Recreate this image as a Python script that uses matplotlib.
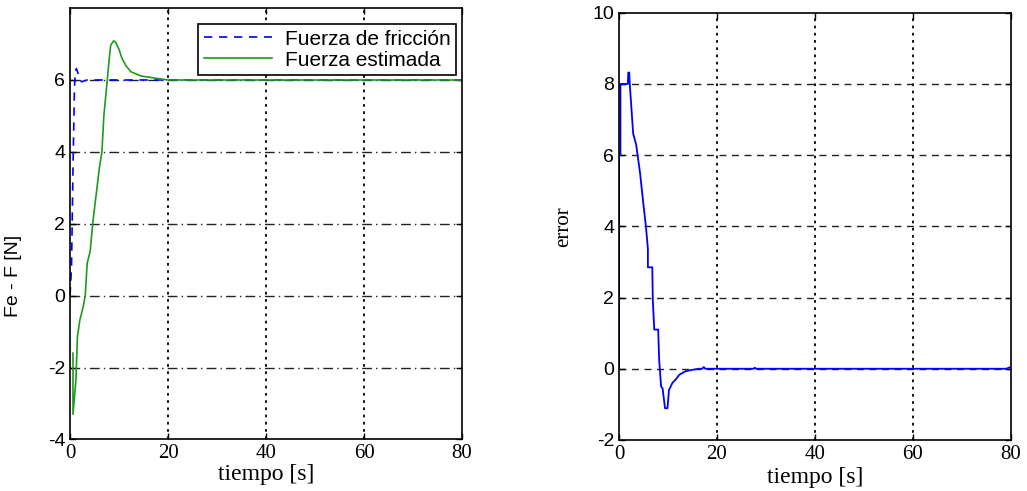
import matplotlib
matplotlib.use("Agg")
import matplotlib.pyplot as plt

plt.rcParams["axes.unicode_minus"] = False

# left panel: friction force vs estimated force
t_fric = [0, 0.3, 0.6, 0.9, 1.1, 1.3, 1.6, 2.0, 2.4, 2.8, 3.5, 80]
fric = [0, 0.8, 3.5, 5.8, 6.25, 6.32, 6.2, 6.0, 5.95, 5.97, 6.0, 6.0]

t_est = [0.6, 0.6, 1.2, 1.5, 2.0, 2.7, 3.1, 3.5, 4.1, 4.7, 5.5, 6.0, 6.5, 6.9,
         7.6, 8.0, 8.3, 8.9, 9.3, 10.0, 10.6, 11.4, 12.4, 14.5, 18, 20, 80]
est = [-1.6, -3.3, -2.35, -1.15, -0.68, -0.3, 0.0, 0.9, 1.23, 2.1, 3.0, 3.57, 4.0, 5.0,
       6.0, 6.6, 6.97, 7.09, 7.05, 6.85, 6.6, 6.4, 6.23, 6.11, 6.04, 6.0, 6.0]

# right panel: error
t_err = [0, 0, 0.3, 0.3, 1.8, 1.9, 2.1, 2.2, 2.6, 2.9, 3.5, 3.8, 4.3, 5.0, 5.5,
         5.9, 5.9, 6.8, 6.9, 7.2, 8.0, 8.2, 8.6, 8.9, 9.4, 9.9, 10.2, 10.9, 11.6,
         12.3, 13.6, 15.0, 16.3, 17.0, 17.3, 17.6, 27.5, 27.7, 28.0, 79.0, 80.0]
err = [0.0, 6.0, 6.0, 8.0, 8.0, 8.32, 8.32, 8.0, 7.2, 6.6, 6.3, 6.0, 5.5, 4.6, 4.0,
       3.37, 2.85, 2.85, 1.95, 1.1, 1.1, 0.25, -0.5, -0.55, -1.11, -1.11, -0.6, -0.4, -0.3,
       -0.17, -0.07, -0.03, 0.0, 0.0, 0.05, 0.0, 0.0, 0.03, 0.0, 0.0, 0.05]

xticks = [0, 20, 40, 60, 80]
yticks_left = [-4, -2, 0, 2, 4, 6]
yticks_right = [-2, 0, 2, 4, 6, 8, 10]

SERIF = "Liberation Serif"
SANS = "Liberation Sans"

fig = plt.figure(figsize=(10.27, 4.91), dpi=100)
ax1 = fig.add_axes([0.0682, 0.105, 0.3817, 0.8785])
ax2 = fig.add_axes([0.6027, 0.104, 0.3817, 0.870])


def style(ax, yticks, hls):
    ax.set_xlim(0, 80)
    ax.set_xticks(xticks)
    ax.set_yticks(yticks)
    for x in xticks[1:-1]:
        ax.axvline(x, color="k", ls=(0, (1.5, 2.5)), lw=1.3, zorder=0)
    for y in yticks[1:]:
        if y < ax.get_ylim()[1]:
            ax.axhline(y, color="#222222", ls=hls, lw=1.0, zorder=0)
    ax.tick_params(direction="in", top=True, right=True, length=4, width=1)
    for lab in ax.get_xticklabels():
        lab.set_fontfamily(SERIF)
        lab.set_fontsize(15)
    for lab in ax.get_yticklabels():
        lab.set_fontfamily(SANS)
        lab.set_fontsize(14)
    for s in ax.spines.values():
        s.set_linewidth(1.2)
    ax.set_xlabel("tiempo [s]", family=SERIF, fontsize=17)


ax1.set_ylim(-4, 8)
ax1.plot(t_fric, fric, color="#0000ff", ls=(0, (5, 4)), lw=1.2, label="Fuerza de fricción")
ax1.plot(t_est, est, color="#1e9a1e", lw=1.2, label="Fuerza estimada")
style(ax1, yticks_left, (0, (7, 3, 1, 3)))
ax1.set_ylabel("Fe - F [N]", family=SANS, fontsize=14)
ax1.yaxis.set_label_coords(-0.122, 0.38)
ax1.xaxis.set_label_coords(0.5, -0.056)
leg = ax1.legend(loc="upper right", bbox_to_anchor=(0.984, 0.962), prop={"family": SANS, "size": 15},
                 fancybox=False, framealpha=1, edgecolor="k", borderpad=0.25,
                 handlelength=3.3, handletextpad=0.6, labelspacing=0.1, borderaxespad=0)
leg.get_frame().set_linewidth(1.2)

ax2.set_ylim(-2, 10)
ax2.plot(t_err, err, color="#0000ff", lw=1.3)
style(ax2, yticks_right, (0, (5, 4)))
ax2.set_ylabel("error", family=SERIF, fontsize=15)
ax2.yaxis.set_label_coords(-0.117, 0.5)
ax2.xaxis.set_label_coords(0.5, -0.064)

fig.savefig("out.png", dpi=100)
